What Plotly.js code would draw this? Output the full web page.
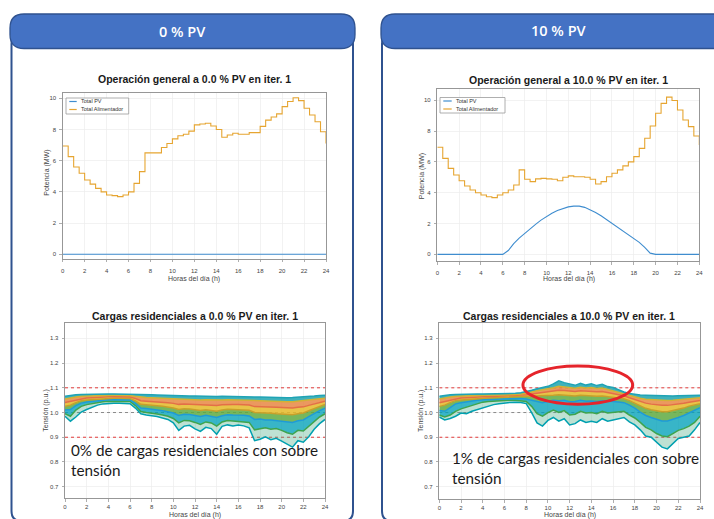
<!DOCTYPE html>
<html>
<head>
<meta charset="utf-8">
<script src="https://cdn.plot.ly/plotly-3.0.1.min.js"></script>
<style>
  html, body { margin: 0; padding: 0; background: #ffffff; }
  #chart { width: 714px; height: 519px; }
</style>
</head>
<body>
<div id="chart"></div>
<script>
// ---- Datos ----------------------------------------------------------------
const horas = [0,0.5,1,1.5,2,2.5,3,3.5,4,4.5,5,5.5,6,6.5,7,7.5,8,8.5,9,9.5,10,10.5,11,11.5,12,12.5,13,13.5,14,14.5,15,15.5,16,16.5,17,17.5,18,18.5,19,19.5,20,20.5,21,21.5,22,22.5,23,23.5,24];

const horasTicks = [0,2,4,6,8,10,12,14,16,18,20,22,24];
const potenciaTicks = [0,2,4,6,8,10];
const tensionTicks = [0.7,0.8,0.9,1.0,1.1,1.2,1.3];
const tensionTickText = ['0.7','0.8','0.9','1.0','1.1','1.2','1.3'];

// Potencia total (MW), escenario 0 % PV
const pv0 = [0,0,0,0,0,0,0,0,0,0,0,0,0,0,0,0,0,0,0,0,0,0,0,0,0,0,0,0,0,0,0,0,0,0,0,0,0,0,0,0,0,0,0,0,0,0,0,0,0];
const alim0 = [6.94,6.26,5.6,5.2,4.76,4.5,4.23,4.0,3.8,3.76,3.7,3.8,4.0,4.55,5.3,6.5,6.5,6.5,6.85,7.1,7.4,7.6,7.7,7.9,8.3,8.35,8.4,8.23,8.0,7.5,7.65,7.76,7.7,7.7,7.8,7.8,8.2,8.6,8.8,9.0,9.47,9.8,10.04,9.85,9.36,8.93,8.5,7.86,7.1];

// Potencia total (MW), escenario 10 % PV
const pv10 = [0,0,0,0,0,0,0,0,0,0,0,0,0,0.25,0.7,1.05,1.36,1.66,1.95,2.22,2.45,2.67,2.85,2.98,3.08,3.13,3.13,3.05,2.9,2.72,2.5,2.26,2.0,1.78,1.54,1.3,1.04,0.78,0.45,0.08,0,0,0,0,0,0,0,0,0];
const alim10 = [6.95,6.23,5.58,5.15,4.78,4.44,4.18,4.0,3.85,3.74,3.68,3.85,4.0,4.18,4.5,5.48,4.87,4.72,4.9,4.93,4.9,4.87,4.78,5.0,5.09,5.04,5.04,5.0,4.87,4.57,4.72,5.04,5.26,5.48,5.74,6.0,6.34,6.88,7.53,8.33,9.16,9.8,10.2,9.98,9.37,8.72,8.29,7.68,7.1];

// Tensión en cargas residenciales (p.u.), escenario 0 % PV
const tension0_1 = [1.066,1.070,1.072,1.073,1.074,1.074,1.075,1.075,1.075,1.075,1.075,1.075,1.075,1.074,1.073,1.072,1.072,1.071,1.070,1.070,1.069,1.068,1.068,1.067,1.067,1.066,1.066,1.066,1.065,1.066,1.065,1.065,1.064,1.064,1.064,1.063,1.063,1.062,1.062,1.061,1.061,1.060,1.061,1.062,1.063,1.065,1.067,1.069,1.070];
const tension0_2 = [1.055,1.060,1.063,1.066,1.067,1.068,1.069,1.070,1.070,1.070,1.070,1.070,1.069,1.066,1.062,1.061,1.060,1.059,1.058,1.057,1.055,1.053,1.054,1.053,1.052,1.051,1.052,1.051,1.050,1.051,1.052,1.051,1.051,1.050,1.050,1.047,1.047,1.046,1.046,1.045,1.045,1.044,1.044,1.046,1.047,1.050,1.053,1.056,1.058];
const tension0_3 = [1.040,1.045,1.052,1.057,1.059,1.060,1.062,1.063,1.064,1.064,1.064,1.064,1.063,1.057,1.048,1.046,1.045,1.043,1.042,1.040,1.037,1.033,1.035,1.034,1.032,1.030,1.032,1.031,1.028,1.031,1.033,1.032,1.032,1.031,1.030,1.024,1.024,1.022,1.022,1.021,1.020,1.018,1.018,1.021,1.023,1.029,1.035,1.041,1.046];
const tension0_4 = [1.025,1.030,1.040,1.048,1.051,1.053,1.055,1.057,1.058,1.058,1.058,1.058,1.057,1.047,1.033,1.031,1.030,1.027,1.025,1.022,1.018,1.012,1.015,1.014,1.011,1.008,1.011,1.009,1.005,1.010,1.013,1.012,1.012,1.011,1.009,1.000,1.000,0.997,0.997,0.995,0.994,0.991,0.991,0.995,0.998,1.007,1.016,1.025,1.033];
const tension0_5 = [1.010,1.012,1.028,1.038,1.043,1.046,1.048,1.051,1.052,1.052,1.052,1.052,1.051,1.037,1.018,1.016,1.014,1.010,1.007,1.003,0.998,0.988,0.993,0.992,0.988,0.984,0.989,0.986,0.980,0.987,0.991,0.990,0.990,0.989,0.986,0.972,0.974,0.970,0.970,0.968,0.966,0.962,0.960,0.967,0.970,0.983,0.996,1.008,1.018];
const tension0_6 = [0.995,0.985,1.010,1.025,1.032,1.037,1.041,1.044,1.046,1.046,1.046,1.046,1.045,1.028,1.004,1.000,0.998,0.994,0.990,0.985,0.976,0.958,0.968,0.967,0.960,0.952,0.962,0.958,0.945,0.962,0.968,0.966,0.967,0.965,0.960,0.930,0.935,0.938,0.932,0.935,0.928,0.918,0.912,0.928,0.925,0.945,0.965,0.982,0.995];
const tension0_7 = [0.985,0.965,0.982,1.002,1.012,1.022,1.030,1.035,1.038,1.038,1.038,1.038,1.036,1.018,0.995,0.990,0.988,0.984,0.978,0.972,0.958,0.928,0.945,0.948,0.934,0.924,0.940,0.935,0.912,0.944,0.950,0.946,0.950,0.946,0.938,0.886,0.892,0.902,0.890,0.896,0.884,0.872,0.860,0.886,0.880,0.902,0.932,0.955,0.972];

// Tensión en cargas residenciales (p.u.), escenario 10 % PV
const tension10_1 = [1.066,1.070,1.072,1.073,1.074,1.074,1.075,1.075,1.075,1.075,1.076,1.076,1.076,1.077,1.078,1.080,1.084,1.090,1.096,1.100,1.106,1.116,1.128,1.121,1.115,1.110,1.118,1.111,1.116,1.109,1.114,1.105,1.101,1.091,1.083,1.077,1.073,1.071,1.070,1.069,1.068,1.067,1.067,1.067,1.068,1.069,1.069,1.070,1.070];
const tension10_2 = [1.055,1.060,1.063,1.066,1.067,1.068,1.069,1.070,1.070,1.070,1.071,1.071,1.071,1.072,1.073,1.075,1.078,1.083,1.088,1.091,1.095,1.100,1.106,1.104,1.101,1.098,1.102,1.099,1.101,1.097,1.099,1.093,1.090,1.083,1.076,1.069,1.063,1.058,1.054,1.052,1.050,1.049,1.049,1.050,1.052,1.054,1.056,1.058,1.060];
const tension10_3 = [1.040,1.045,1.052,1.057,1.059,1.060,1.062,1.063,1.064,1.064,1.065,1.066,1.066,1.067,1.068,1.069,1.072,1.075,1.078,1.080,1.083,1.086,1.090,1.089,1.087,1.085,1.088,1.086,1.087,1.084,1.085,1.081,1.079,1.074,1.068,1.060,1.052,1.044,1.038,1.034,1.031,1.029,1.029,1.031,1.034,1.038,1.042,1.046,1.049];
const tension10_4 = [1.025,1.030,1.040,1.048,1.051,1.053,1.055,1.057,1.058,1.059,1.060,1.061,1.061,1.062,1.063,1.063,1.064,1.064,1.065,1.066,1.068,1.070,1.072,1.071,1.069,1.067,1.070,1.068,1.069,1.066,1.067,1.064,1.063,1.060,1.056,1.048,1.038,1.027,1.017,1.011,1.006,1.003,1.003,1.007,1.012,1.018,1.026,1.032,1.036];
const tension10_5 = [1.008,1.005,1.020,1.035,1.040,1.044,1.047,1.050,1.052,1.053,1.054,1.055,1.055,1.056,1.057,1.057,1.055,1.050,1.044,1.040,1.046,1.050,1.048,1.050,1.044,1.045,1.050,1.046,1.047,1.045,1.048,1.045,1.045,1.043,1.040,1.030,1.018,1.002,0.988,0.980,0.972,0.966,0.966,0.972,0.980,0.988,0.998,1.010,1.020];
const tension10_6 = [0.990,0.982,0.990,1.005,1.015,1.022,1.030,1.036,1.042,1.045,1.047,1.048,1.049,1.050,1.050,1.049,1.045,1.025,0.995,0.985,1.000,1.010,1.000,1.008,0.990,0.993,1.005,0.998,1.000,0.995,1.005,0.998,1.000,1.002,1.005,0.990,0.978,0.960,0.940,0.930,0.915,0.905,0.902,0.915,0.928,0.935,0.945,0.960,0.985];
const tension10_7 = [0.982,0.970,0.976,0.985,0.998,0.995,1.005,1.012,1.020,1.026,1.032,1.036,1.040,1.041,1.042,1.041,1.036,1.000,0.958,0.945,0.968,0.980,0.965,0.975,0.950,0.955,0.970,0.960,0.965,0.960,0.975,0.965,0.970,0.975,0.980,0.962,0.950,0.930,0.905,0.900,0.880,0.860,0.853,0.874,0.895,0.900,0.905,0.930,0.960];

// Límites de tensión (p.u.)
const limiteInferior = 0.9;
const tensionNominal = 1.0;
const limiteSuperior = 1.1;

// ---- Geometría de la página (px → coordenadas de papel) ----------------------
const W = 714, H = 519;
const px = v => v / W;
const py = v => 1 - v / H;

function roundRect(x0, y0, x1, y1, r) {
  // trazado de rectángulo con esquinas redondeadas, en coordenadas de papel
  const P = (x, y) => px(x) + ',' + py(y);
  return 'M' + P(x0 + r, y0) + ' L' + P(x1 - r, y0) + ' Q' + P(x1, y0) + ' ' + P(x1, y0 + r) +
         ' L' + P(x1, y1 - r) + ' Q' + P(x1, y1) + ' ' + P(x1 - r, y1) +
         ' L' + P(x0 + r, y1) + ' Q' + P(x0, y1) + ' ' + P(x0, y1 - r) +
         ' L' + P(x0, y0 + r) + ' Q' + P(x0, y0) + ' ' + P(x0 + r, y0) + ' Z';
}

const FONT = 'Liberation Sans, Arial, sans-serif';
const GRID = '#ececec';
const FRAME = '#8c8c8c';
const COLOR_PV = '#3f8dcf';
const COLOR_ALIM = '#e6a531';

function ejeX(dom, anchor, standoff) {
  return {
    domain: [px(dom[0]), px(dom[1])], anchor: anchor, range: [0, 24],
    tickmode: 'array', tickvals: horasTicks,
    showgrid: true, gridcolor: GRID, gridwidth: 0.7, zeroline: false,
    showline: true, mirror: true, linecolor: FRAME, linewidth: 0.9,
    ticks: 'outside', ticklen: 2.5, tickcolor: FRAME, tickwidth: 0.7,
    ticklabelstandoff: standoff,
    tickfont: { family: FONT, size: 6, color: '#444' }, fixedrange: true
  };
}
function ejeY(dom, anchor, range, vals, text) {
  const ax = {
    domain: [py(dom[1]), py(dom[0])], anchor: anchor, range: range,
    tickmode: 'array', tickvals: vals,
    showgrid: true, gridcolor: GRID, gridwidth: 0.7, zeroline: false,
    showline: true, mirror: true, linecolor: FRAME, linewidth: 0.9,
    ticks: 'outside', ticklen: 2.5, tickcolor: FRAME, tickwidth: 0.7,
    ticklabelstandoff: 2,
    tickfont: { family: FONT, size: 6, color: '#444' }, fixedrange: true
  };
  if (text) ax.ticktext = text;
  return ax;
}

// ---- Trazas ---------------------------------------------------------------
const traces = [];

function potencia(xa, ya, pv, alim) {
  traces.push({ x: horas, y: pv, xaxis: xa, yaxis: ya, type: 'scatter', mode: 'lines',
    line: { color: COLOR_PV, width: 1.1 }, name: 'Total PV', showlegend: false, hoverinfo: 'skip' });
  traces.push({ x: horas, y: alim, xaxis: xa, yaxis: ya, type: 'scatter', mode: 'lines',
    line: { color: COLOR_ALIM, width: 1.1, shape: 'hv' }, name: 'Total Alimentador', showlegend: false, hoverinfo: 'skip' });
}

function limites(xa, ya) {
  [[limiteSuperior, '#e23a3a'], [tensionNominal, '#8a8a8a'], [limiteInferior, '#e23a3a']].forEach(function (l) {
    traces.push({ x: [horas[0], horas[horas.length - 1]], y: [l[0], l[0]], xaxis: xa, yaxis: ya,
      type: 'scatter', mode: 'lines', line: { color: l[1], width: 1, dash: 'dot' },
      showlegend: false, hoverinfo: 'skip' });
  });
}

// curvas de tensión, de la más baja a la más alta; cada una rellena hasta la anterior
const lineColors = ['#00A0B0', '#3EA44E', '#1E9BD7', '#C8A02A', '#E36F47', '#D2B233', '#1FA3B5'];
const bandColors = [null,
  'rgba(70,170,130,0.35)',
  'rgba(0,160,185,0.78)',
  'rgba(95,170,65,0.85)',
  'rgba(228,186,40,0.85)',
  'rgba(230,128,55,0.80)',
  'rgba(30,165,175,0.85)'];

function tensiones(xa, ya, series) {
  series.forEach(function (s, i) {
    traces.push({ x: horas, y: s, xaxis: xa, yaxis: ya, type: 'scatter', mode: 'lines',
      line: { color: lineColors[i], width: 1.5 },
      fill: i === 0 ? 'none' : 'tonexty', fillcolor: bandColors[i] || undefined,
      showlegend: false, hoverinfo: 'skip' });
  });
}

potencia('x', 'y', pv0, alim0);
potencia('x2', 'y2', pv10, alim10);
limites('x3', 'y3');
tensiones('x3', 'y3', [tension0_7, tension0_6, tension0_5, tension0_4, tension0_3, tension0_2, tension0_1]);
limites('x4', 'y4');
tensiones('x4', 'y4', [tension10_7, tension10_6, tension10_5, tension10_4, tension10_3, tension10_2, tension10_1]);

// ---- Paneles, leyendas y textos ------------------------------------------
const AZUL = '#4472C4', AZUL_OSC = '#2F528F';
const shapes = [
  { type: 'path', xref: 'paper', yref: 'paper', layer: 'below', path: roundRect(11.5, 34, 353, 521, 10),
    fillcolor: '#ffffff', line: { color: AZUL_OSC, width: 2 } },
  { type: 'path', xref: 'paper', yref: 'paper', layer: 'below', path: roundRect(382, 34, 745, 521, 10),
    fillcolor: '#ffffff', line: { color: AZUL_OSC, width: 2 } },
  { type: 'path', xref: 'paper', yref: 'paper', layer: 'below', path: roundRect(10, 14, 355, 48.5, 14),
    fillcolor: AZUL, line: { color: AZUL_OSC, width: 1.3 } },
  { type: 'path', xref: 'paper', yref: 'paper', layer: 'below', path: roundRect(381, 14, 745, 48.5, 14),
    fillcolor: AZUL, line: { color: AZUL_OSC, width: 1.3 } },
  // cajas de leyenda
  { type: 'rect', xref: 'paper', yref: 'paper', x0: px(66), x1: px(128.7), y0: py(114), y1: py(98),
    fillcolor: '#ffffff', line: { color: '#9a9a9a', width: 0.8 } },
  { type: 'rect', xref: 'paper', yref: 'paper', x0: px(440), x1: px(505), y0: py(113), y1: py(97.5),
    fillcolor: '#ffffff', line: { color: '#9a9a9a', width: 0.8 } },
  { type: 'line', xref: 'paper', yref: 'paper', x0: px(69.3), x1: px(76.7), y0: py(101.5), y1: py(101.5), line: { color: COLOR_PV, width: 1.2 } },
  { type: 'line', xref: 'paper', yref: 'paper', x0: px(69.3), x1: px(76.7), y0: py(109.5), y1: py(109.5), line: { color: COLOR_ALIM, width: 1.2 } },
  { type: 'line', xref: 'paper', yref: 'paper', x0: px(443.3), x1: px(451.7), y0: py(101), y1: py(101), line: { color: COLOR_PV, width: 1.2 } },
  { type: 'line', xref: 'paper', yref: 'paper', x0: px(443.3), x1: px(451.7), y0: py(109), y1: py(109), line: { color: COLOR_ALIM, width: 1.2 } },
  // zona con sobretensión
  { type: 'circle', xref: 'x4', yref: 'y4', x0: 7.7, x1: 17.8, y0: 1.034, y1: 1.188,
    line: { color: '#e5242b', width: 3 }, fillcolor: 'rgba(0,0,0,0)', layer: 'above' }
];

function txt(text, x, y, size, opts) {
  return Object.assign({ text: text, xref: 'paper', yref: 'paper', x: px(x), y: py(y),
    showarrow: false, xanchor: 'center', yanchor: 'middle',
    font: { family: FONT, size: size, color: '#222' } }, opts || {});
}

const annotations = [
  txt('0 % PV', 182.5, 31.5, 14.5, { font: { family: 'Open Sans, sans-serif', size: 14.5, color: '#ffffff', weight: 600 } }),
  txt('10 % PV', 559, 30.5, 14.5, { font: { family: 'Open Sans, sans-serif', size: 14.5, color: '#ffffff', weight: 600 } }),

  txt('Operación general a 0.0 % PV en iter. 1', 194.5, 79.5, 10.5, { font: { family: FONT, size: 10.5, color: '#1a1a1a', weight: 'bold' } }),
  txt('Operación general a 10.0 % PV en iter. 1', 568, 80, 10.5, { font: { family: FONT, size: 10.5, color: '#1a1a1a', weight: 'bold' } }),
  txt('Cargas residenciales a 0.0 % PV en iter. 1', 194.7, 316, 10.5, { font: { family: FONT, size: 10.5, color: '#1a1a1a', weight: 'bold' } }),
  txt('Cargas residenciales a 10.0 % PV en iter. 1', 568.6, 316, 10.5, { font: { family: FONT, size: 10.5, color: '#1a1a1a', weight: 'bold' } }),

  txt('Potencia (MW)', 46.7, 173, 7, { textangle: -90, font: { family: FONT, size: 7, color: '#444' } }),
  txt('Potencia (MW)', 421.7, 176.5, 7, { textangle: -90, font: { family: FONT, size: 7, color: '#444' } }),
  txt('Tensión (p.u.)', 45.7, 411, 7, { textangle: -90, font: { family: FONT, size: 7, color: '#444' } }),
  txt('Tensión (p.u.)', 421, 411, 7, { textangle: -90, font: { family: FONT, size: 7, color: '#444' } }),
  txt('Horas del día (h)', 194.5, 278.5, 7, { font: { family: FONT, size: 7, color: '#444' } }),
  txt('Horas del día (h)', 568.5, 278.5, 7, { font: { family: FONT, size: 7, color: '#444' } }),
  txt('Horas del día (h)', 195, 515, 7, { font: { family: FONT, size: 7, color: '#444' } }),
  txt('Horas del día (h)', 569.5, 515, 7, { font: { family: FONT, size: 7, color: '#444' } }),

  txt('Total PV', 79.3, 101.3, 5.5, { xanchor: 'left', font: { family: FONT, size: 5.5, color: '#333' } }),
  txt('Total Alimentador', 79.3, 109.3, 5.5, { xanchor: 'left', font: { family: FONT, size: 5.5, color: '#333' } }),
  txt('Total PV', 454, 100.8, 5.5, { xanchor: 'left', font: { family: FONT, size: 5.5, color: '#333' } }),
  txt('Total Alimentador', 454, 108.8, 5.5, { xanchor: 'left', font: { family: FONT, size: 5.5, color: '#333' } }),

  txt('0% de cargas residenciales con sobre', 69, 450, 15.3, { xanchor: 'left', font: { family: 'Lato, sans-serif', size: 15.3, color: '#1a1a1a' } }),
  txt('tensión', 69, 469.5, 15.3, { xanchor: 'left', font: { family: 'Lato, sans-serif', size: 15.3, color: '#1a1a1a' } }),
  txt('1% de cargas residenciales con sobre', 450, 457.5, 15.3, { xanchor: 'left', font: { family: 'Lato, sans-serif', size: 15.3, color: '#1a1a1a' } }),
  txt('tensión', 450, 477.5, 15.3, { xanchor: 'left', font: { family: 'Lato, sans-serif', size: 15.3, color: '#1a1a1a' } })
];

const layout = {
  width: W, height: H,
  margin: { l: 0, r: 0, t: 0, b: 0 },
  paper_bgcolor: '#ffffff', plot_bgcolor: '#ffffff',
  showlegend: false,
  xaxis: ejeX([62.7, 326], 'y', 3),
  yaxis: ejeY([92.7, 259], 'x', [-0.30, 10.36], potenciaTicks),
  xaxis2: ejeX([437.3, 699.3], 'y2', 3),
  yaxis2: ejeY([89.3, 261.3], 'x2', [-0.45, 10.71], potenciaTicks),
  xaxis3: ejeX([65, 325], 'y3', 0),
  yaxis3: ejeY([323.3, 498.3], 'x3', [0.653, 1.361], tensionTicks, tensionTickText),
  xaxis4: ejeX([439.3, 700], 'y4', 0),
  yaxis4: ejeY([323.3, 499.3], 'x4', [0.649, 1.361], tensionTicks, tensionTickText),
  shapes: shapes,
  annotations: annotations
};

Plotly.newPlot('chart', traces, layout, { staticPlot: true, displayModeBar: false });
</script>
</body>
</html>
